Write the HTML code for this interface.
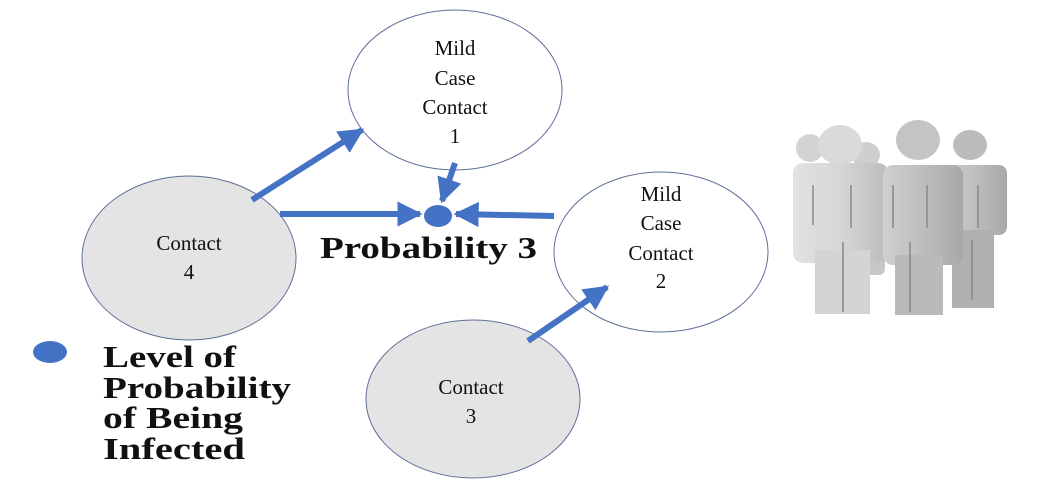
<!DOCTYPE html>
<html><head><meta charset="utf-8"><style>html,body{margin:0;padding:0;background:#fff}svg{display:block}</style></head>
<body>
<svg width="1055" height="489" viewBox="0 0 1055 489" xmlns="http://www.w3.org/2000/svg" font-family="'Liberation Serif', serif">
<defs>
<marker id="ah" viewBox="0 0 10 10" refX="9" refY="5" markerWidth="4.2" markerHeight="4.2" orient="auto" markerUnits="strokeWidth">
<path d="M0,0 L10,5 L0,10 z" fill="#4472C4"/></marker>
<linearGradient id="g1" x1="0" x2="1"><stop offset="0" stop-color="#e2e2e2"/><stop offset="0.5" stop-color="#d6d6d6"/><stop offset="1" stop-color="#bcbcbc"/></linearGradient>
<linearGradient id="g2" x1="0" x2="1"><stop offset="0" stop-color="#cfcfcf"/><stop offset="0.5" stop-color="#bdbdbd"/><stop offset="1" stop-color="#a8a8a8"/></linearGradient>
</defs>
<g stroke="#5f6f9a" stroke-width="1">
<ellipse cx="455" cy="90" rx="107" ry="80" fill="#fff"/>
<ellipse cx="189" cy="258" rx="107" ry="82" fill="#e4e4e4"/>
<ellipse cx="661" cy="252" rx="107" ry="80" fill="#fff"/>
<ellipse cx="473" cy="399" rx="107" ry="79" fill="#e4e4e4"/>
</g>
<g stroke="#4472C4" stroke-width="6" fill="none" marker-end="url(#ah)">
<line x1="252" y1="200" x2="362" y2="130"/>
<line x1="280" y1="214" x2="420" y2="214"/>
<line x1="455" y1="163" x2="442" y2="201"/>
<line x1="554" y1="216" x2="456" y2="214"/>
<line x1="528" y1="341" x2="607" y2="287"/>
</g>
<ellipse cx="438" cy="216" rx="14" ry="11" fill="#4472C4"/>
<ellipse cx="50" cy="352" rx="17" ry="11" fill="#4472C4"/>
<g font-size="21" fill="#111" text-anchor="middle">
<text x="455" y="55">Mild</text><text x="455" y="85">Case</text><text x="455" y="114">Contact</text><text x="455" y="143">1</text>
<text x="661" y="201">Mild</text><text x="661" y="230">Case</text><text x="661" y="260">Contact</text><text x="661" y="288">2</text>
<text x="189" y="250">Contact</text><text x="189" y="279">4</text>
<text x="471" y="394">Contact</text><text x="471" y="423">3</text>
</g>
<g font-weight="bold" fill="#111" font-size="31">
<text x="320" y="258" textLength="217" lengthAdjust="spacingAndGlyphs">Probability 3</text>
<text x="103" y="367" textLength="133" lengthAdjust="spacingAndGlyphs">Level of</text>
<text x="103" y="398" textLength="188" lengthAdjust="spacingAndGlyphs">Probability</text>
<text x="103" y="428" textLength="140" lengthAdjust="spacingAndGlyphs">of Being</text>
<text x="103" y="459" textLength="142" lengthAdjust="spacingAndGlyphs">Infected</text>
</g>
<g>
<ellipse cx="810" cy="148" rx="14" ry="14" fill="#d4d4d4"/>
<ellipse cx="866" cy="155" rx="14" ry="13" fill="#cfcfcf"/>
<rect x="845" y="165" width="40" height="110" rx="6" fill="#c8c8c8"/>
<ellipse cx="970" cy="145" rx="17" ry="15" fill="#bcbcbc"/>
<rect x="945" y="165" width="62" height="70" rx="8" fill="url(#g2)"/>
<rect x="952" y="230" width="42" height="78" fill="#b0b0b0"/>
<ellipse cx="840" cy="145" rx="22" ry="20" fill="#dadada"/>
<rect x="793" y="163" width="95" height="100" rx="10" fill="url(#g1)"/>
<rect x="815" y="250" width="55" height="64" fill="#d4d4d4"/>
<ellipse cx="918" cy="140" rx="22" ry="20" fill="#c4c4c4"/>
<rect x="883" y="165" width="80" height="100" rx="10" fill="url(#g2)"/>
<rect x="895" y="255" width="48" height="60" fill="#bababa"/>
<g stroke="#888" stroke-width="1.5">
<line x1="813" y1="185" x2="813" y2="225"/><line x1="851" y1="185" x2="851" y2="228"/>
<line x1="843" y1="242" x2="843" y2="312"/>
<line x1="893" y1="185" x2="893" y2="228"/><line x1="927" y1="185" x2="927" y2="228"/>
<line x1="910" y1="242" x2="910" y2="312"/>
<line x1="978" y1="185" x2="978" y2="228"/><line x1="972" y1="240" x2="972" y2="300"/>
</g>
</g>
</svg>
</body></html>
